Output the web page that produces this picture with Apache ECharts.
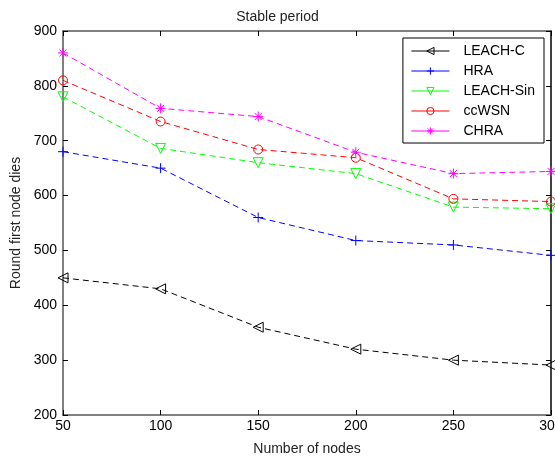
<!DOCTYPE html>
<html><head><meta charset="utf-8">
<script src="https://cdn.jsdelivr.net/npm/echarts@6/dist/echarts.min.js"></script>
<style>html,body{margin:0;padding:0;background:#fff}#c{width:555px;height:456px}</style>
</head><body><div id="c"></div>
<script>
const nodes = [50, 100, 150, 200, 250, 300];
const leachC = [450, 430, 360, 320, 300, 291];
const hra = [680, 650, 560, 518, 510, 491];
const leachSin = [780, 686, 660, 640, 579, 576];
const ccWSN = [810, 735, 684, 669, 594, 589];
const chra = [860, 759, 744, 679, 640, 644];
const names = ['LEACH-C', 'HRA', 'LEACH-Sin', 'ccWSN', 'CHRA'];
const colors = ['#000000', '#0000ff', '#00ff00', '#ff0000', '#ff00ff'];
const symbols = [
  'path://M0,5L10,0L10,10Z',
  'path://M5,0L5,10M0,5L10,5',
  'path://M0,0L10,0L5,10Z',
  'circle',
  'path://M5,0L5,10M0,5L10,5M1.5,1.5L8.5,8.5M8.5,1.5L1.5,8.5'
];
const sizes = [10, 10, 10, 9, 10];
const allData = [leachC, hra, leachSin, ccWSN, chra];
const font = 'Liberation Sans, Arial, sans-serif';
const chart = echarts.init(document.getElementById('c'));
const series = allData.map((d, i) => ({
  name: names[i], type: 'line', xAxisIndex: 0, yAxisIndex: 0,
  data: d.map((v, j) => [nodes[j], v]),
  symbol: symbols[i], symbolSize: sizes[i], showAllSymbol: true,
  lineStyle: { color: colors[i], width: 1, type: [6, 4] },
  itemStyle: { color: 'rgba(255,255,255,0)', borderColor: colors[i], borderWidth: 1 },
  emphasis: { disabled: true }, animation: false
}));
const axisLine = { show: true, lineStyle: { color: '#555', width: 1.5 } };
chart.setOption({
  animation: false,
  title: { text: 'Stable period', left: 'center', top: 5, textStyle: { fontFamily: font, fontSize: 14, fontWeight: 'normal', color: '#222' } },
  grid: { left: 63, right: 4, top: 31, bottom: 41, outerBoundsMode: 'none', containLabel: false },
  legend: {
    orient: 'vertical', right: 11, top: 38, data: names,
    backgroundColor: '#fff', borderColor: '#000', borderWidth: 1,
    padding: [6, 9, 5, 8], itemGap: 6, itemWidth: 38, itemHeight: 9,
    lineStyle: { type: 'solid', width: 1 },
    itemStyle: { borderWidth: 1 },
    textStyle: { fontFamily: font, fontSize: 14, color: '#000', padding: [0, 0, 0, 9] }
  },
  xAxis: [
    { type: 'value', min: 50, max: 300, interval: 50, position: 'bottom',
      name: 'Number of nodes', nameLocation: 'middle', nameGap: 27,
      nameTextStyle: { fontFamily: font, fontSize: 14, color: '#222' },
      axisLine, axisTick: { inside: true, length: 5, lineStyle: { color: '#000' } },
      axisLabel: { fontFamily: font, fontSize: 14, color: '#000', margin: 4 },
      splitLine: { show: false } },
    { type: 'value', min: 50, max: 300, interval: 50, position: 'top',
      axisLine, axisTick: { inside: true, length: 5, lineStyle: { color: '#000' } },
      axisLabel: { show: false }, splitLine: { show: false } }
  ],
  yAxis: [
    { type: 'value', min: 200, max: 900, interval: 100, position: 'left',
      name: 'Round first node dies', nameLocation: 'middle', nameGap: 40,
      nameTextStyle: { fontFamily: font, fontSize: 14, color: '#222' },
      axisLine, axisTick: { inside: true, length: 5, lineStyle: { color: '#000' } },
      axisLabel: { fontFamily: font, fontSize: 14, color: '#000', margin: 6 },
      splitLine: { show: false } },
    { type: 'value', min: 200, max: 900, interval: 100, position: 'right',
      axisLine: { show: true, lineStyle: { color: '#000', width: 1.5 } },
      axisTick: { inside: true, length: 5, lineStyle: { color: '#000' } },
      axisLabel: { show: false }, splitLine: { show: false } }
  ],
  series
});
</script></body></html>
